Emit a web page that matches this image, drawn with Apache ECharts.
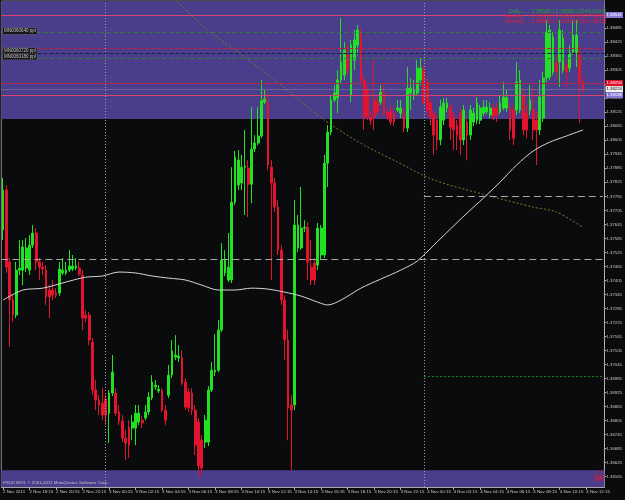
<!DOCTYPE html>
<html>
<head>
<meta charset="utf-8">
<title>EURUSD,M15</title>
<script src="https://cdn.jsdelivr.net/npm/echarts@6/dist/echarts.min.js"></script>
<style>
html, body { margin: 0; padding: 0; background: #0a0b0c; }
#main { width: 625px; height: 500px; }
</style>
</head>
<body>
<div id="main"></div>
<script>
// bar slots on the time axis (15 min each, a few empty ones on the right for chart shift)
var slotCount = 182;

// time axis labels, one every 8 bars (2 hours)
var xLabels = ['2 Nov 2011', '2 Nov 18:15', '2 Nov 20:15', '2 Nov 22:15', '3 Nov 00:15', '3 Nov 02:15',
    '3 Nov 04:15', '3 Nov 06:15', '3 Nov 08:15', '3 Nov 10:15', '3 Nov 12:15', '3 Nov 14:15',
    '3 Nov 16:15', '3 Nov 18:15', '3 Nov 20:15', '3 Nov 22:15', '4 Nov 00:15', '4 Nov 02:15',
    '4 Nov 04:15', '4 Nov 06:15', '4 Nov 08:15', '4 Nov 10:15', '4 Nov 12:15'];

// price scale labels
var yTicks = [1.38485, 1.38425, 1.38365, 1.38305, 1.38245, 1.38185, 1.38125, 1.38065, 1.38005,
    1.37945, 1.37885, 1.37825, 1.37765, 1.37705, 1.37645, 1.37585, 1.37525, 1.37465, 1.37405,
    1.37345, 1.37285, 1.37225, 1.37165, 1.37105, 1.37045, 1.36985, 1.36925, 1.36865, 1.36805,
    1.36745, 1.36685, 1.36625, 1.36565];
var yMin = 1.36521, yMax = 1.38601;

// candles: [open, close, low, high]
var ohlc = [
    [1.37621,1.37792,1.37578,1.37843],[1.37792,1.37462,1.37437,1.37813],[1.37484,1.37321,1.3712,1.37501],
    [1.37321,1.37257,1.37227,1.37342],[1.37257,1.37449,1.37244,1.37484],[1.37449,1.37458,1.37428,1.37578],
    [1.37449,1.37548,1.37385,1.37578],[1.37458,1.37544,1.37441,1.37586],[1.37449,1.37556,1.37428,1.37599],
    [1.37556,1.37608,1.37544,1.37642],[1.37608,1.37484,1.37449,1.37629],[1.37484,1.37462,1.37407,1.37501],
    [1.37462,1.37454,1.37428,1.37484],[1.37449,1.37334,1.373,1.37471],[1.37364,1.37334,1.37244,1.37385],
    [1.37364,1.37342,1.37321,1.37407],[1.37351,1.37342,1.3733,1.37372],[1.37351,1.37454,1.37338,1.37484],
    [1.37437,1.37449,1.37428,1.37501],[1.37437,1.37449,1.37428,1.37484],[1.37449,1.37467,1.37441,1.37535],
    [1.37454,1.37467,1.37445,1.37514],[1.37458,1.37467,1.37449,1.37501],[1.37458,1.37432,1.37424,1.37484],
    [1.37428,1.37244,1.37193,1.37449],[1.37257,1.37244,1.37227,1.37278],[1.37257,1.3715,1.37128,1.3727],
    [1.37141,1.36936,1.36914,1.37158],[1.36936,1.36893,1.3685,1.36979],[1.36893,1.36872,1.36829,1.36914],
    [1.3688,1.36829,1.36807,1.36944],[1.36897,1.36829,1.36786,1.36914],[1.36837,1.36923,1.36709,1.36936],
    [1.36923,1.37013,1.3691,1.37086],[1.36923,1.36837,1.36825,1.36944],[1.36842,1.36803,1.36786,1.36872],
    [1.36803,1.3673,1.36713,1.36829],[1.3673,1.36709,1.36636,1.36765],[1.36777,1.367,1.36645,1.36807],
    [1.36773,1.36799,1.36722,1.36829],[1.36773,1.36837,1.367,1.36872],[1.36799,1.36837,1.36786,1.36872],
    [1.36807,1.36795,1.36773,1.36825],[1.36816,1.36842,1.36807,1.36872],[1.36842,1.36906,1.36829,1.36927],
    [1.36902,1.3697,1.36893,1.37],[1.36949,1.36957,1.36936,1.36979],[1.36932,1.3694,1.36923,1.36957],
    [1.36936,1.3685,1.36842,1.36944],[1.3685,1.36807,1.36786,1.36872],[1.36914,1.37,1.36902,1.37043],
    [1.37,1.37103,1.36987,1.3715],[1.37077,1.37086,1.37064,1.37171],[1.37073,1.37081,1.37056,1.37128],
    [1.37077,1.36966,1.36957,1.37107],[1.3697,1.36863,1.3685,1.36987],[1.36927,1.36859,1.36842,1.36944],
    [1.36923,1.3685,1.36829,1.36944],[1.3685,1.367,1.36658,1.36872],[1.36799,1.36611,1.36559,1.36816],
    [1.36722,1.36602,1.36576,1.36743],[1.36713,1.36807,1.36688,1.36829],[1.36713,1.36936,1.36696,1.36953],
    [1.36936,1.37021,1.36927,1.37056],[1.37013,1.37021,1.36996,1.37175],[1.37021,1.37193,1.37013,1.37235],
    [1.37193,1.37492,1.37184,1.37565],[1.37437,1.37492,1.37424,1.37535],[1.37407,1.37462,1.37398,1.37608],
    [1.37407,1.3774,1.37394,1.3789],[1.3774,1.37933,1.37728,1.37959],[1.37813,1.3792,1.37792,1.37963],
    [1.37822,1.3789,1.37792,1.37942],[1.3789,1.37895,1.37685,1.38049],[1.37886,1.37817,1.37676,1.3792],
    [1.37817,1.37967,1.37736,1.38147],[1.37967,1.37993,1.37954,1.38027],[1.37993,1.38023,1.37984,1.38147],
    [1.38023,1.38173,1.38014,1.38263],[1.38168,1.38181,1.3816,1.3822],[1.38168,1.37899,1.37877,1.38207],
    [1.3789,1.37822,1.37407,1.3792],[1.37822,1.37719,1.37698,1.37843],[1.37719,1.37535,1.37514,1.37749],
    [1.37535,1.37321,1.373,1.37556],[1.37321,1.3715,1.37064,1.37342],[1.3715,1.36859,1.36722,1.37193],
    [1.36872,1.3685,1.36593,1.36914],[1.36872,1.37642,1.3685,1.37749],[1.37544,1.37642,1.37526,1.37685],
    [1.37544,1.37629,1.37535,1.37805],[1.37629,1.37633,1.37612,1.37663],[1.37633,1.37484,1.37407,1.37655],
    [1.37462,1.37407,1.37385,1.37578],[1.37479,1.37407,1.37385,1.37501],[1.37471,1.37629,1.37449,1.37651],
    [1.37514,1.37629,1.37492,1.37642],[1.37514,1.37907,1.37501,1.37942],[1.37907,1.3804,1.37805,1.3807],
    [1.3804,1.38177,1.38027,1.38198],[1.38177,1.38207,1.38168,1.38241],[1.38186,1.38263,1.38121,1.38305],
    [1.38263,1.3834,1.38245,1.38528],[1.38284,1.38391,1.38263,1.38425],[1.3837,1.38305,1.38284,1.38412],
    [1.38198,1.38412,1.38168,1.38434],[1.38348,1.38434,1.38305,1.38477],[1.38412,1.38477,1.3837,1.38498],
    [1.38468,1.38263,1.38241,1.38485],[1.38263,1.38104,1.38049,1.38284],[1.3822,1.38104,1.38091,1.38241],
    [1.38104,1.38091,1.3807,1.38134],[1.38177,1.38104,1.38049,1.38348],[1.38168,1.38126,1.38113,1.38198],
    [1.38168,1.38211,1.38156,1.38241],[1.38211,1.38121,1.38109,1.38241],[1.38126,1.38104,1.38091,1.38143],
    [1.38126,1.38083,1.3807,1.38156],[1.38121,1.38083,1.38066,1.38143],[1.38134,1.38143,1.38126,1.38177],
    [1.38121,1.38143,1.381,1.38177],[1.38121,1.38057,1.3804,1.38143],[1.38057,1.38228,1.3804,1.38318],
    [1.38207,1.38228,1.38134,1.38271],[1.38198,1.3822,1.38177,1.38263],[1.38207,1.38314,1.38194,1.38348],
    [1.38263,1.38314,1.38241,1.38357],[1.38305,1.38164,1.38156,1.38327],[1.38254,1.38134,1.38113,1.38271],
    [1.38164,1.38104,1.3807,1.38177],[1.38121,1.38027,1.37942,1.38134],[1.38091,1.38006,1.37963,1.38113],
    [1.38006,1.38147,1.37984,1.38177],[1.38091,1.38164,1.3807,1.38186],[1.38143,1.38164,1.38126,1.38186],
    [1.38147,1.38061,1.38006,1.38164],[1.38104,1.38049,1.37963,1.38126],[1.3807,1.38027,1.37963,1.38091],
    [1.38121,1.38006,1.37942,1.38143],[1.38006,1.38134,1.37984,1.38156],[1.38083,1.38027,1.3792,1.381],
    [1.38027,1.38134,1.38006,1.38156],[1.38083,1.38121,1.38066,1.38143],[1.38091,1.38164,1.38074,1.3819],
    [1.38091,1.38143,1.38074,1.38156],[1.38121,1.38147,1.38109,1.38177],[1.38126,1.38147,1.38117,1.38177],
    [1.38113,1.38143,1.381,1.38168],[1.38143,1.38104,1.38091,1.3816],[1.38143,1.38113,1.38083,1.38164],
    [1.38126,1.38164,1.38117,1.38198],[1.38143,1.3819,1.38134,1.38254],[1.38143,1.38186,1.38126,1.3822],
    [1.38143,1.38049,1.38006,1.38164],[1.38134,1.38014,1.37984,1.38156],[1.38134,1.38254,1.38113,1.3834],
    [1.38134,1.38263,1.38121,1.38305],[1.38198,1.38049,1.38027,1.38228],[1.38121,1.38049,1.38014,1.38156],
    [1.38134,1.38177,1.38113,1.38241],[1.38134,1.38049,1.38006,1.38233],[1.38091,1.38049,1.37899,1.38126],
    [1.38049,1.3819,1.38027,1.38263],[1.381,1.38271,1.38083,1.38297],[1.38271,1.38468,1.38254,1.38519],
    [1.38275,1.38477,1.38263,1.38498],[1.38297,1.38447,1.38284,1.38468],[1.3834,1.38297,1.38263,1.3837],
    [1.3834,1.38477,1.38233,1.38519],[1.38305,1.38442,1.38292,1.38477],[1.38327,1.38297,1.38233,1.38348],
    [1.38314,1.38378,1.38297,1.38412],[1.38382,1.38455,1.3837,1.38519],[1.38382,1.38455,1.38318,1.38519],
    [1.38382,1.38254,1.38079,1.38412],[1.38254,1.3822,1.38211,1.38271]
];

// moving averages: [bar index, price]
var maWhite = [[0,1.37321],[6,1.37364],[12,1.37372],[20,1.37402],[25,1.37419],[30,1.37424],[35,1.37441],
    [40,1.37437],[45,1.37424],[50,1.37415],[55,1.37407],[60,1.37385],[65,1.37364],[70,1.37364],[75,1.37372],
    [80,1.37368],[85,1.37355],[90,1.37338],[95,1.37312],[98,1.373],[102,1.37321],[108,1.37372],[114,1.37411],
    [120,1.37449],[125,1.37488],[130,1.37556],[135,1.37625],[140,1.37693],[145,1.37758],[150,1.37826],
    [155,1.37899],[160,1.37959],[165,1.37997],[170,1.38023],[175,1.38049]];
var maOlive = [[50,1.38635],[61,1.38485],[70,1.38391],[82,1.38263],[97,1.38091],[109,1.37984],[119,1.37912],
    [130,1.37835],[146,1.3777],[160,1.37719],[167,1.37698],[175,1.37633]];

// horizontal levels
var pinkLevels = [1.38541, 1.38198];
var greenLevels = [1.38468, 1.38357];
var redDashLevel = 1.384;
var blueDashLevel = 1.38378;
var redLevel = 1.3825;
var bidLevel = 1.38224;
var pivotLevel = 1.37496;
var dayHighLevel = 1.37766;
var dayLowLevel = 1.36996;
var topZone = [1.38096, yMax];
var bottomZone = [yMin, 1.36593];
var daySeparators = ['31', '127'];

var infoLines = [
    'Daily.... : 1.38595 | 1.36550 [2045.0000]',
    'Weekly... : 1.41383 | 1.36206 [5177.1300]',
    'Monthly.. : 1.38580 | 1.36356 [2224.3800]'
];
var objLabels = ['MN0060640 ppl', 'MN0060720 ppl', 'MN0060180 ppl'];

var slots = [];
for (var i = 0; i < slotCount; i++) slots.push(String(i));

var FONT = '"Liberation Sans", Arial, sans-serif';

function hLine(v, color, type, width) {
    return { yAxis: v, lineStyle: { color: color, type: type, width: width || 1 } };
}
function tagLine(v, color, type, bg, fg) {
    var item = hLine(v, color, type);
    item.label = {
        show: true, position: 'end', distance: 1, formatter: v.toFixed(5),
        backgroundColor: bg, color: fg, fontSize: 4.3, fontFamily: FONT, padding: [1, 1]
    };
    return item;
}
function segment(v, color, type) {
    return [
        { xAxis: '127', yAxis: v, lineStyle: { color: color, type: type, width: 1 } },
        { xAxis: String(slotCount - 1), yAxis: v }
    ];
}

var myChart = echarts.init(document.getElementById('main'));

var option = {
    backgroundColor: '#0a0b0c',
    animation: false,
    grid: { left: 1, right: 17, top: 1, bottom: 13, show: true, borderColor: '#8a8a8a', borderWidth: 1 },
    xAxis: {
        type: 'category',
        data: slots,
        axisLine: { show: true, lineStyle: { color: '#a8a8a8' } },
        axisTick: { show: true, interval: 7, alignWithLabel: true, length: 3, lineStyle: { color: '#a8a8a8' } },
        axisLabel: {
            interval: 7, align: 'left', margin: 3, fontSize: 4.4, fontFamily: FONT, color: '#c8c8c8',
            formatter: function (v, idx) { return xLabels[idx / 8] || ''; }
        },
        splitLine: { show: false }
    },
    yAxis: {
        type: 'value',
        position: 'right',
        min: yMin,
        max: yMax,
        splitLine: { show: false },
        axisLine: { show: true, lineStyle: { color: '#b0b0b0' } },
        axisTick: { show: true, length: 2, customValues: yTicks, lineStyle: { color: '#b0b0b0' } },
        axisLabel: {
            customValues: yTicks, margin: 2, fontSize: 4.3, fontFamily: FONT, color: '#c8c8c8',
            formatter: function (v) { return v.toFixed(5); }
        }
    },
    series: [
        {
            name: 'zones',
            type: 'line',
            data: [],
            z: 1,
            markArea: {
                silent: true,
                itemStyle: { color: '#4a3e8c' },
                data: [
                    [{ yAxis: topZone[0] }, { yAxis: topZone[1] }],
                    [{ yAxis: bottomZone[0] }, { yAxis: bottomZone[1] }]
                ]
            }
        },
        {
            name: 'EURUSD,M15',
            type: 'candlestick',
            data: ohlc,
            z: 2,
            barWidth: '68%',
            itemStyle: {
                color: '#22e022', color0: '#e3142f',
                borderColor: '#22e022', borderColor0: '#e3142f', borderWidth: 1
            },
            markLine: {
                silent: true,
                precision: 5,
                symbol: ['none', 'none'],
                label: { show: false },
                data: [
                    tagLine(pinkLevels[0], '#d8466e', 'solid', '#8a78d8', '#ffffff'),
                    tagLine(pinkLevels[1], '#d8466e', 'solid', '#8a78d8', '#ffffff'),
                    hLine(greenLevels[0], '#2f7f35', [4, 3]),
                    hLine(greenLevels[1], '#2f7f35', [4, 3]),
                    hLine(redDashLevel, '#c81a3a', [4, 2]),
                    hLine(blueDashLevel, '#1c1f4a', [4, 2]),
                    tagLine(redLevel, '#a82a48', 'solid', '#e0102c', '#ffffff'),
                    tagLine(bidLevel, '#8e8aa8', 'dotted', '#f0f0f0', '#000000'),
                    hLine(pivotLevel, '#a8a8a8', [7, 4]),
                    segment(dayHighLevel, '#a8a8a8', [7, 4]),
                    segment(dayLowLevel, '#1e8a24', [2, 2]),
                    { xAxis: daySeparators[0], lineStyle: { color: '#a0a0a0', type: [1, 2], width: 1 } },
                    { xAxis: daySeparators[1], lineStyle: { color: '#a0a0a0', type: [1, 2], width: 1 } }
                ]
            }
        },
        {
            name: 'MA slow',
            type: 'line',
            data: maOlive,
            z: 4,
            smooth: 0.3,
            showSymbol: false,
            connectNulls: true,
            lineStyle: { color: '#7d7a2c', width: 1, type: [2, 2] }
        },
        {
            name: 'MA fast',
            type: 'line',
            data: maWhite,
            z: 4,
            smooth: 0.3,
            showSymbol: false,
            connectNulls: true,
            lineStyle: { color: '#d6d6d6', width: 1 }
        }
    ],
    graphic: [
        { type: 'text', x: 606, y: 11, z: 10, style: { text: infoLines[0], fill: '#2aa030', fontSize: 5.5, fontFamily: FONT, align: 'right', textAlign: 'right', verticalAlign: 'middle', textVerticalAlign: 'middle' } },
        { type: 'text', x: 606, y: 16, z: 10, style: { text: infoLines[1], fill: '#e0203a', fontSize: 5.5, fontFamily: FONT, align: 'right', textAlign: 'right', verticalAlign: 'middle', textVerticalAlign: 'middle' } },
        { type: 'text', x: 606, y: 21, z: 10, style: { text: infoLines[2], fill: '#e0203a', fontSize: 5.5, fontFamily: FONT, align: 'right', textAlign: 'right', verticalAlign: 'middle', textVerticalAlign: 'middle' } },
        { type: 'text', x: 3, y: 28, z: 10, style: { text: objLabels[0], fill: '#c8c8c8', fontSize: 4.5, fontFamily: FONT, backgroundColor: '#15151a', borderColor: '#5a5a5a', borderWidth: 0.5, padding: [0.5, 1] } },
        { type: 'text', x: 3, y: 48, z: 10, style: { text: objLabels[1], fill: '#c8c8c8', fontSize: 4.5, fontFamily: FONT, backgroundColor: '#15151a', borderColor: '#5a5a5a', borderWidth: 0.5, padding: [0.5, 1] } },
        { type: 'text', x: 3, y: 53.5, z: 10, style: { text: objLabels[2], fill: '#c8c8c8', fontSize: 4.5, fontFamily: FONT, backgroundColor: '#15151a', borderColor: '#5a5a5a', borderWidth: 0.5, padding: [0.5, 1] } },
        { type: 'text', x: 3, y: 481, z: 10, style: { text: 'FXDD MT4, \u00a9 2001-2011 MetaQuotes Software Corp.', fill: '#c0c0c8', fontSize: 4.4, fontFamily: FONT } },
        { type: 'text', x: 599, y: 478, z: 10, style: { text: '\u2620', fill: '#e3142f', fontSize: 15, fontFamily: '"DejaVu Sans"', align: 'center', textAlign: 'center', verticalAlign: 'middle', textVerticalAlign: 'middle' } }
    ]
};

myChart.setOption(option);
</script>
</body>
</html>
